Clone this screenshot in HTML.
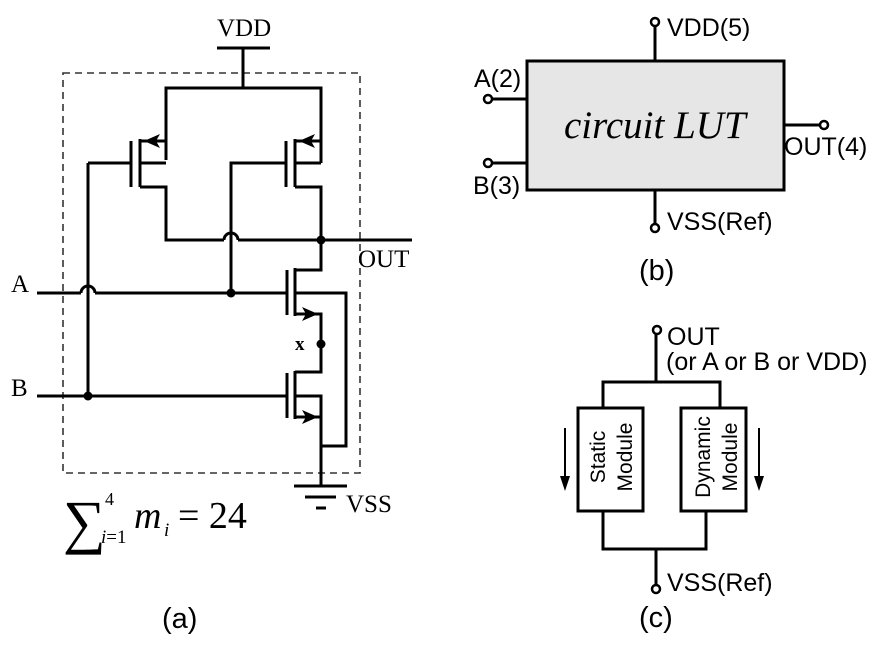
<!DOCTYPE html>
<html><head><meta charset="utf-8"><style>
html,body{margin:0;padding:0;background:#fff;}
svg{display:block}
.s{font-family:"Liberation Serif",serif;}
.a{font-family:"Liberation Sans",sans-serif;}
</style></head><body>
<svg width="882" height="645" viewBox="0 0 882 645" xmlns="http://www.w3.org/2000/svg">
<g fill="none" stroke="#000" stroke-width="3">
<rect x="63" y="73" width="297" height="400" stroke="#333" stroke-width="1.6" stroke-dasharray="7,5"/>
<line x1="217" y1="48" x2="270" y2="48"/>
<line x1="243" y1="48" x2="243" y2="88"/>
<polyline points="166,160 166,88 321,88 321,163"/>
<line x1="140" y1="139" x2="140" y2="187"/>
<line x1="131" y1="141" x2="131" y2="187"/>
<line x1="140" y1="141" x2="166" y2="141"/>
<line x1="140" y1="163" x2="166" y2="163"/>
<polyline points="140,187 166,187 166,240 224,240"/>
<path d="M224,240 A7,7 0 0 1 238,240"/>
<line x1="238" y1="240" x2="412" y2="240"/>
<line x1="88" y1="163" x2="131" y2="163"/>
<line x1="295" y1="139" x2="295" y2="187"/>
<line x1="286" y1="141" x2="286" y2="187"/>
<line x1="295" y1="141" x2="321" y2="141"/>
<line x1="295" y1="163" x2="321" y2="163"/>
<polyline points="295,187 321,187 321,270 295,270"/>
<polyline points="286,163 231,163 231,293"/>
<line x1="37" y1="293" x2="81" y2="293"/>
<path d="M81,293 A7,7 0 0 1 95,293"/>
<line x1="95" y1="293" x2="287" y2="293"/>
<line x1="37" y1="396" x2="287" y2="396"/>
<line x1="88" y1="163" x2="88" y2="396"/>
<line x1="287" y1="270" x2="287" y2="315"/>
<line x1="295" y1="268" x2="295" y2="316"/>
<polyline points="295,293 346,293 346,446 321,446"/>
<polyline points="295,314 321,314 321,372 295,372"/>
<line x1="287" y1="373" x2="287" y2="418"/>
<line x1="295" y1="371" x2="295" y2="419"/>
<polyline points="295,396 321,396 321,486"/>
<line x1="295" y1="417" x2="321" y2="417"/>
<line x1="294" y1="486" x2="347" y2="486"/>
<line x1="305" y1="497" x2="336" y2="497"/>
<line x1="316" y1="508" x2="326" y2="508"/>
</g>
<g fill="#000">
<path d="M144,141 L160,134 L156,141 L160,148 Z"/>
<path d="M299,141 L315,134 L311,141 L315,148 Z"/>
<path d="M318,314 L302,307 L306,314 L302,321 Z"/>
<path d="M318,417 L302,410 L306,417 L302,424 Z"/>
<circle cx="321" cy="240" r="4.5"/>
<circle cx="231" cy="293" r="4.5"/>
<circle cx="321" cy="344" r="4.5"/>
<circle cx="88" cy="396" r="4.5"/>
</g>
<g class="s" fill="#000">
<text x="217" y="36" font-size="25">VDD</text>
<text x="358" y="267" font-size="25">OUT</text>
<text x="11" y="292" font-size="25">A</text>
<text x="11" y="396" font-size="25">B</text>
<text x="295" y="350" font-size="19" font-weight="bold">x</text>
<text x="346" y="512" font-size="25">VSS</text>
<text x="63" y="542" font-size="60">∑</text>
<text x="105" y="505" font-size="18">4</text>
<text x="101" y="543" font-size="19"><tspan font-style="italic">i</tspan>=1</text>
<text x="134" y="528" font-size="38" font-style="italic">m</text>
<text x="164" y="536" font-size="19" font-style="italic">i</text>
<text x="178" y="528" font-size="38">= 24</text>
</g>
<text class="a" x="162" y="628" font-size="29">(a)</text>

<rect x="527" y="61" width="257" height="129" fill="#e6e6e6" stroke="#000" stroke-width="3"/>
<g stroke="#000" stroke-width="3" fill="none">
<line x1="655" y1="26" x2="655" y2="61"/>
<line x1="655" y1="190" x2="655" y2="224"/>
<line x1="492" y1="99" x2="527" y2="99"/>
<line x1="492" y1="163" x2="527" y2="163"/>
<line x1="784" y1="125" x2="820" y2="125"/>
</g>
<g stroke="#000" stroke-width="2.5" fill="#fff">
<circle cx="655" cy="22" r="4"/>
<circle cx="655" cy="228" r="4"/>
<circle cx="488" cy="99" r="4"/>
<circle cx="488" cy="163" r="4"/>
<circle cx="824" cy="125" r="4"/>
</g>
<g class="a" fill="#000" font-size="25">
<text x="667" y="36">VDD(5)</text>
<text x="474" y="87">A(2)</text>
<text x="473" y="194">B(3)</text>
<text x="784" y="155">OUT(4)</text>
<text x="667" y="230">VSS(Ref)</text>
<text x="639" y="280" font-size="29">(b)</text>
</g>
<text class="s" x="564" y="138" font-size="39" font-style="italic">circuit LUT</text>

<g stroke="#000" stroke-width="3" fill="none">
<line x1="656" y1="334" x2="656" y2="382"/>
<polyline points="603,408 603,382 720,382 720,408"/>
<rect x="578" y="408" width="65" height="103"/>
<rect x="681" y="408" width="65" height="103"/>
<polyline points="603,511 603,549 706,549 706,511"/>
<line x1="656" y1="549" x2="656" y2="585"/>
<line x1="565" y1="428" x2="565" y2="480" stroke-width="2"/>
<line x1="759" y1="428" x2="759" y2="480" stroke-width="2"/>
</g>
<g fill="#000">
<path d="M560,476 L570,476 L565,491 Z"/>
<path d="M754,476 L764,476 L759,491 Z"/>
</g>
<g stroke="#000" stroke-width="2.5" fill="#fff">
<circle cx="657" cy="330" r="4"/>
<circle cx="656" cy="589" r="4"/>
</g>
<g class="a" fill="#000" font-size="25">
<text x="667" y="345">OUT</text>
<text x="666" y="370">(or A or B or VDD)</text>
<text x="667" y="591">VSS(Ref)</text>
<text x="639" y="627" font-size="29">(c)</text>
</g>
<g class="a" fill="#000" font-size="21" text-anchor="middle">
<text transform="translate(605,457) rotate(-90)">Static</text>
<text transform="translate(632,457) rotate(-90)">Module</text>
<text transform="translate(710,457) rotate(-90)">Dynamic</text>
<text transform="translate(737,457) rotate(-90)">Module</text>
</g>
</svg>
</body></html>
